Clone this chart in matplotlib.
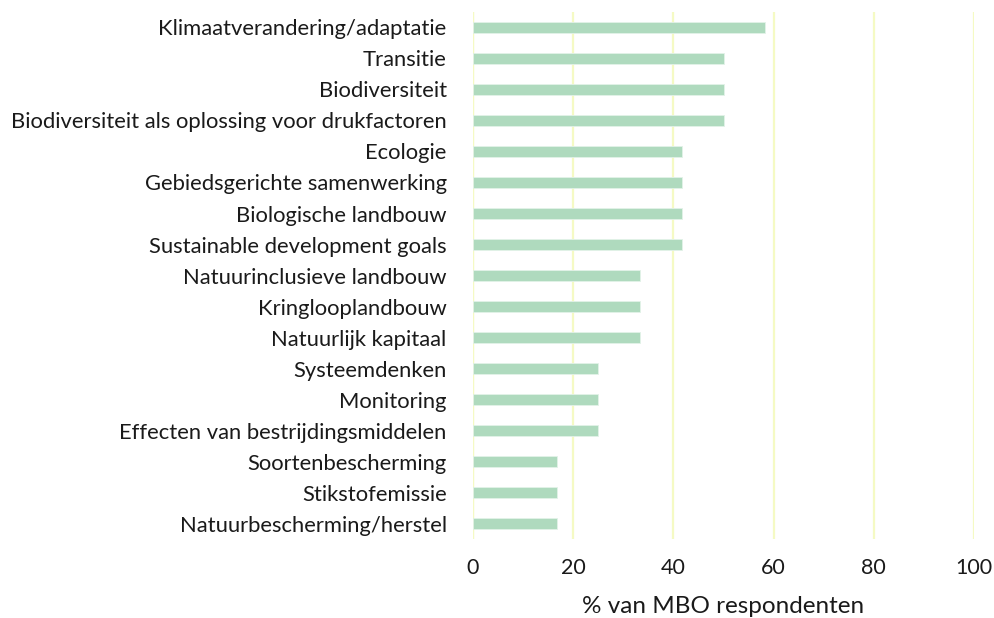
import matplotlib.pyplot as plt

topics = [
    "Klimaatverandering/adaptatie",
    "Transitie",
    "Biodiversiteit",
    "Biodiversiteit als oplossing voor drukfactoren",
    "Ecologie",
    "Gebiedsgerichte samenwerking",
    "Biologische landbouw",
    "Sustainable development goals",
    "Natuurinclusieve landbouw",
    "Kringlooplandbouw",
    "Natuurlijk kapitaal",
    "Systeemdenken",
    "Monitoring",
    "Effecten van bestrijdingsmiddelen",
    "Soortenbescherming",
    "Stikstofemissie",
    "Natuurbescherming/herstel",
]
percent = [58.3, 50, 50, 50, 41.7, 41.7, 41.7, 41.7, 33.3, 33.3, 33.3,
           25, 25, 25, 16.7, 16.7, 16.7]
xticks = [0, 20, 40, 60, 80, 100]

plt.rcParams["font.family"] = ["Lato", "DejaVu Sans"]

fig = plt.figure(figsize=(9.95, 6.18), dpi=100)
ax = fig.add_axes([0.4754, 0.1278, 0.5035, 0.8528])

y = list(range(len(topics)))
ax.barh(y, percent, height=0.345, color="#afdabe", edgecolor="#e3f2e8",
        linewidth=0.6, zorder=3)

ax.set_xlim(0, 100)
ax.set_ylim(len(topics) - 0.5, -0.5)
ax.set_xticks(xticks)
ax.set_yticks(y)
ax.set_yticklabels(topics, fontsize=15.8, color="#1a1a1a")
ax.tick_params(axis="y", length=0, pad=19)
ax.tick_params(axis="x", length=0, pad=14, labelsize=15.5, labelcolor="#1a1a1a")
ax.grid(axis="x", color="#f5fac4", linewidth=1.6, zorder=0)
for s in ax.spines.values():
    s.set_visible(False)
ax.axvline(0, color="#f5fac4", linewidth=1.6, zorder=1)

ax.set_xlabel("% van MBO respondenten", fontsize=17.5, color="#1a1a1a", labelpad=12.5)

fig.savefig("out.png", dpi=100)
